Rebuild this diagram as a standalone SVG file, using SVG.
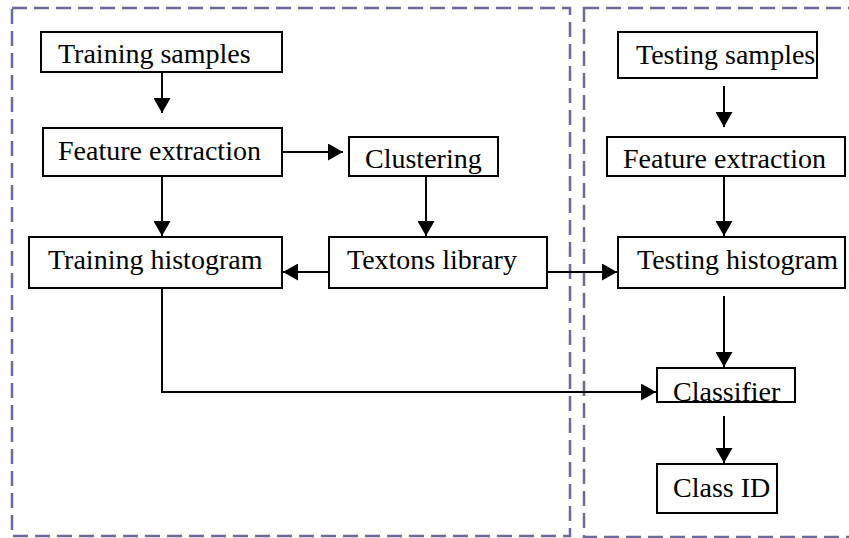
<svg xmlns="http://www.w3.org/2000/svg" width="849" height="538" viewBox="0 0 849 538">
<style>
.frame{fill:none;stroke:#6a6a9c;stroke-width:2.5;stroke-dasharray:15 7}
.box{fill:#fff;stroke:#000;stroke-width:2}
.lbl{font-family:"Liberation Serif","Times New Roman",serif;font-size:28px;fill:#000}
.conn{fill:none;stroke:#000;stroke-width:2}
</style>
<defs>
<marker id="ah" markerUnits="userSpaceOnUse" markerWidth="16" markerHeight="17" refX="15" refY="8.5" orient="auto">
<path d="M0,0 L15,8.5 L0,17 z" fill="#000"/>
</marker>
</defs>
<g id="frames">
<rect class="frame" x="12" y="8" width="558" height="528"/>
<rect class="frame" x="584" y="8" width="270" height="529"/>
</g>
<g id="connectors">
<line class="conn" x1="162" y1="72" x2="162" y2="113" marker-end="url(#ah)"/>
<line class="conn" x1="282" y1="152" x2="343" y2="152" marker-end="url(#ah)"/>
<line class="conn" x1="162" y1="176" x2="162" y2="236" marker-end="url(#ah)"/>
<line class="conn" x1="426" y1="176" x2="426" y2="236" marker-end="url(#ah)"/>
<line class="conn" x1="329" y1="272" x2="283" y2="272" marker-end="url(#ah)"/>
<line class="conn" x1="547" y1="272" x2="617" y2="272" marker-end="url(#ah)"/>
<polyline class="conn" points="162,288 162,392 656,392" marker-end="url(#ah)"/>
<line class="conn" x1="724" y1="86" x2="724" y2="127" marker-end="url(#ah)"/>
<line class="conn" x1="724" y1="176" x2="724" y2="236" marker-end="url(#ah)"/>
<line class="conn" x1="724" y1="296" x2="724" y2="367" marker-end="url(#ah)"/>
<line class="conn" x1="724" y1="416" x2="724" y2="463" marker-end="url(#ah)"/>
</g>
<g id="training-samples">
<rect class="box" x="41" y="32" width="241" height="40"/>
<text class="lbl" x="58" y="63">Training samples</text>
</g>
<g id="feature-extraction-train">
<rect class="box" x="43" y="128" width="239" height="48"/>
<text class="lbl" x="58" y="160">Feature extraction</text>
</g>
<g id="clustering">
<rect class="box" x="349" y="137" width="149" height="39"/>
<text class="lbl" x="365" y="168">Clustering</text>
</g>
<g id="training-histogram">
<rect class="box" x="29" y="237" width="253" height="51"/>
<text class="lbl" x="48" y="269">Training histogram</text>
</g>
<g id="textons-library">
<rect class="box" x="329" y="237" width="218" height="51"/>
<text class="lbl" x="347" y="269">Textons library</text>
</g>
<g id="testing-samples">
<rect class="box" x="618" y="32" width="199" height="46"/>
<text class="lbl" x="636" y="64">Testing samples</text>
</g>
<g id="feature-extraction-test">
<rect class="box" x="607" y="137" width="238" height="39"/>
<text class="lbl" x="623" y="168">Feature extraction</text>
</g>
<g id="testing-histogram">
<rect class="box" x="618" y="237" width="227" height="51"/>
<text class="lbl" x="637" y="269">Testing histogram</text>
</g>
<g id="classifier">
<rect class="box" x="657" y="368" width="138" height="34"/>
<text class="lbl" x="673" y="401">Classifier</text>
</g>
<g id="class-id">
<rect class="box" x="657" y="464" width="120" height="49"/>
<text class="lbl" x="673" y="497">Class ID</text>
</g>
</svg>
